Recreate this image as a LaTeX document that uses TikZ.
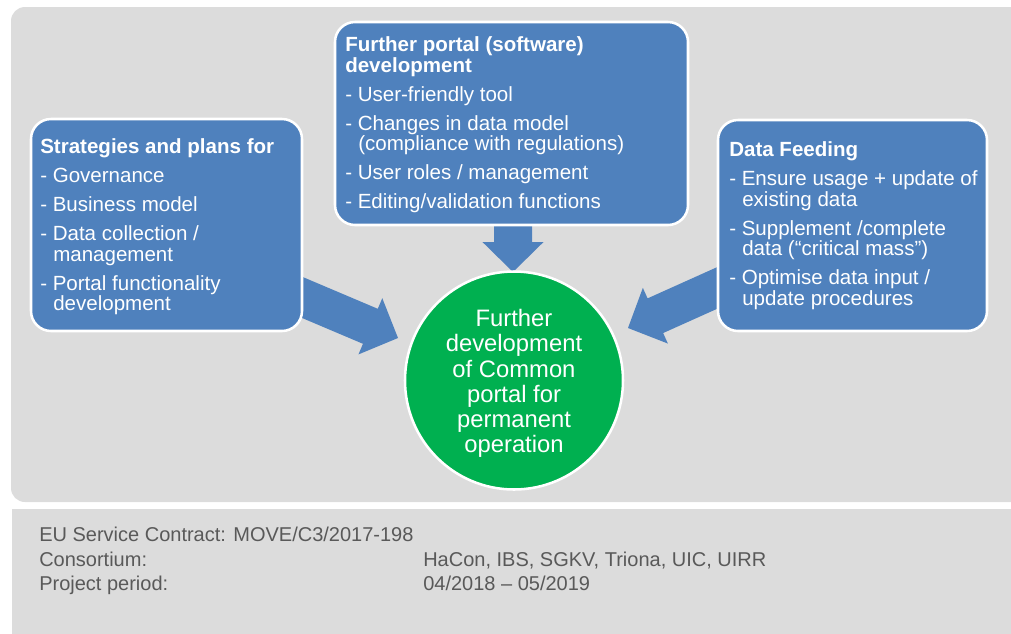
\documentclass[tikz,border=0pt]{standalone}
\usepackage{fontspec}
\setmainfont{Liberation Sans}
\usepackage{tikz}
\usepackage{xcolor}
\usetikzlibrary{calc}

\definecolor{boxblue}{RGB}{79,129,189}
\definecolor{hubgreen}{RGB}{0,176,80}
\definecolor{panelgray}{RGB}{220,220,220}
\definecolor{infogray}{RGB}{89,89,89}

\pgfdeclarelayer{back}
\pgfdeclarelayer{mid}
\pgfsetlayers{back,mid,main}

% wide flat arrow from #1 to the tip #2
\newcommand{\blockarrow}[2]{%
  \coordinate (hb) at ($(#2)!22.5pt!(#1)$);
  \fill[boxblue] ($(#1)!14.25pt!90:(#2)$) -- ($(hb)!14.25pt!-90:(#1)$) -- ($(hb)!22.9pt!-90:(#1)$) -- (#2) -- ($(hb)!22.9pt!90:(#1)$) -- ($(hb)!14.25pt!90:(#1)$) -- ($(#1)!14.25pt!-90:(#2)$) -- cycle;}
\newcommand{\contind}{\hspace*{9.75pt}}

\tikzset{
  topicbox/.style={draw=white, line width=1.9pt, fill=boxblue, rounded corners=15pt, inner sep=0pt},
  topictext/.style={anchor=north west, inner sep=0pt, align=left, text=white, font=\fontsize{15.4}{15.375}\selectfont},
  hubtext/.style={inner sep=0pt, align=center, text=white, font=\fontsize{17.85}{18.9}\selectfont},
  infotext/.style={anchor=north west, inner sep=0pt, align=left, text=infogray, font=\fontsize{15}{18.45}\selectfont}
}

\begin{document}
\begin{tikzpicture}[x=0.75pt,y=0.75pt,yscale=-1,xscale=1]
\useasboundingbox (0,0) rectangle (1011,633);

%Rounded Rect
\node [topicbox, minimum width=203.25pt, minimum height=159pt] (strat) at (166.5,225) {};
%Rounded Rect
\node [topicbox, minimum width=264.75pt, minimum height=152.25pt] (portal) at (511.5,123.5) {};
%Rounded Rect
\node [topicbox, minimum width=201.75pt, minimum height=158.25pt] (feed) at (852.5,225.5) {};
%Circle
\node [circle, draw=white, line width=1.9pt, fill=hubgreen, minimum size=163.5pt, inner sep=0pt] (hub) at (514,380.5) {};

% Text Node
\draw (40,138.5) node [topictext] {\textbf{Strategies and plans for}\\[6.4pt]
- Governance\\[6.4pt]
- Business model\\[6.4pt]
- Data collection /\\
\contind management\\[6.4pt]
- Portal functionality\\
\contind development};
% Text Node
\draw (345,36.5) node [topictext] {\textbf{Further portal (software)}\\
\textbf{development}\\[6.4pt]
- User-friendly tool\\[6.4pt]
- Changes in data model\\
\contind (compliance with regulations)\\[6.4pt]
- User roles / management\\[6.4pt]
- Editing/validation functions};
% Text Node
\draw (729,141.5) node [topictext] {\textbf{Data Feeding}\\[6.4pt]
- Ensure usage + update of\\
\contind existing data\\[6.4pt]
- Supplement /complete\\
\contind data (“critical mass”)\\[6.4pt]
- Optimise data input /\\
\contind update procedures};
% Text Node
\node [hubtext] (hubLabel) at ($(hub.center)+(0,3)$) {Further\\development\\of Common\\portal for\\permanent\\operation};

% Text Node
\draw (39,527) node [infotext] {EU Service Contract: MOVE/C3/2017-198\\
\makebox[288pt][l]{Consortium:}HaCon, IBS, SGKV, Triona, UIC, UIRR\\
\makebox[288pt][l]{Project period:}04/2018 -- 05/2019};

%Block Arrows
\begin{pgfonlayer}{mid}
\coordinate (lStart) at ($(strat.east)+(-28,61)$);
\coordinate (lTip) at ($(hub.center)+(-116,-42.5)$);
\coordinate (dStart) at ($(portal.south)+(1.5,-20)$);
\coordinate (dTip) at ($(hub.center)+(-1,-108.5)$);
\coordinate (rStart) at ($(feed.west)+(27,50.5)$);
\coordinate (rTip) at ($(hub.center)+(114,-52.5)$);
\blockarrow{lStart}{lTip}
\blockarrow{dStart}{dTip}
\blockarrow{rStart}{rTip}
\end{pgfonlayer}

%Background panels
\begin{pgfonlayer}{back}
\fill [panelgray, rounded corners=10.5pt] (11,7) rectangle (1025,502);
\fill [panelgray] (11.5,509) rectangle (1025,640);
\end{pgfonlayer}

\end{tikzpicture}
\end{document}
